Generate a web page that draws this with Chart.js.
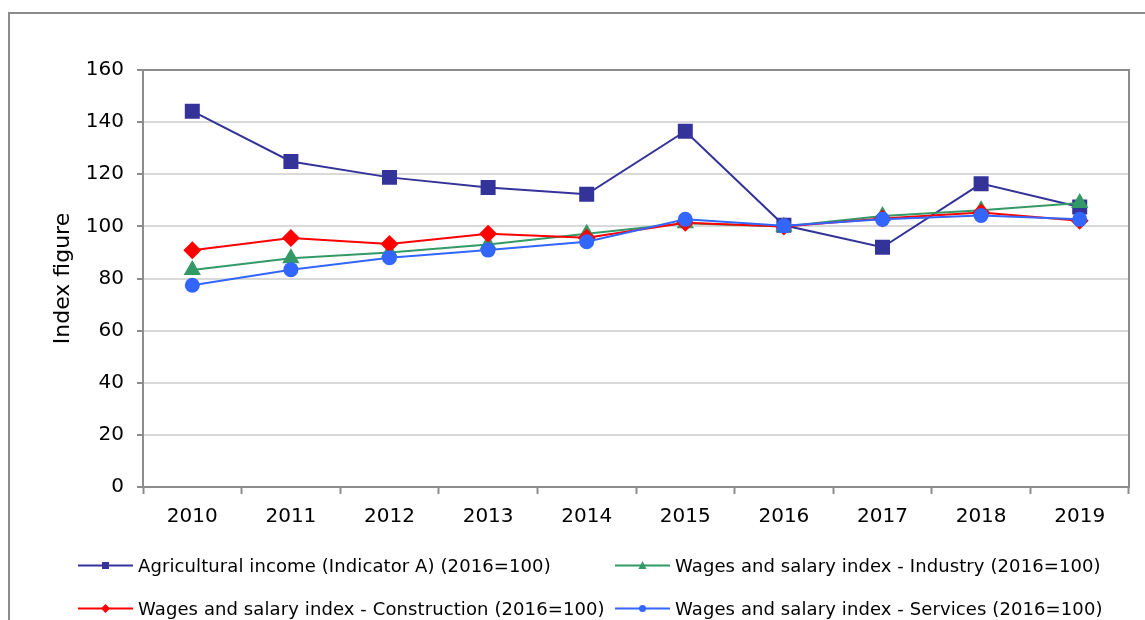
<!DOCTYPE html>
<html>
<head>
<meta charset="utf-8">
<script src="https://cdn.jsdelivr.net/npm/chart.js@4/dist/chart.umd.min.js"></script>
<style>
  html, body { margin: 0; padding: 0; background: #fff; overflow: hidden; }
  #wrap { position: relative; width: 1145px; height: 620px; }
  #frame { position: absolute; left: 8px; top: 12px; width: 1300px; height: 800px; border: 2px solid #8c8c8c; box-sizing: border-box; }
  #chart { position: absolute; left: 0; top: 0; }
  .leg { position: absolute; display: flex; align-items: center; font: 18px "DejaVu Sans", sans-serif; letter-spacing: 0.1px; color: #000; white-space: nowrap; }
  .leg svg { margin-right: 5px; }
</style>
</head>
<body>
<div id="wrap">
  <div id="frame"></div>
  <canvas id="chart" width="1145" height="620"></canvas>
  <div id="legend"></div>
</div>
<script>
const years = ['2010', '2011', '2012', '2013', '2014', '2015', '2016', '2017', '2018', '2019'];
const agricultural = [144.2, 124.9, 118.8, 114.9, 112.3, 136.5, 100.4, 92, 116.4, 107.4];
const industry = [83.3, 87.8, 90, 93, 97.2, 101.2, 100, 104, 106.2, 109];
const construction = [90.8, 95.5, 93.2, 97.2, 95.6, 101.4, 100, 103, 105.3, 102.2];
const services = [77.4, 83.4, 88, 90.9, 94.1, 102.7, 100.2, 102.7, 104.2, 102.7];

const series = [
  { label: 'Agricultural income (Indicator A) (2016=100)', data: agricultural, color: '#333399', style: 'rect', r: 10.6, order: 3 },
  { label: 'Wages and salary index - Industry (2016=100)', data: industry, color: '#339966', style: 'triangle', r: 10, order: 2 },
  { label: 'Wages and salary index - Construction (2016=100)', data: construction, color: '#ff0000', style: 'rectRot', r: 9, order: 1 },
  { label: 'Wages and salary index - Services (2016=100)', data: services, color: '#3366ff', style: 'circle', r: 7.5, order: 0 },
];

// plot frame (top + right edges) drawn around the chart area
const plotFrame = {
  id: 'plotFrame',
  afterDraw(chart) {
    const { ctx, chartArea: a } = chart;
    ctx.save();
    ctx.strokeStyle = '#8c8c8c';
    ctx.lineWidth = 2;
    ctx.beginPath();
    ctx.moveTo(a.left, a.top);
    ctx.lineTo(a.right, a.top);
    ctx.lineTo(a.right, a.bottom);
    ctx.stroke();
    ctx.restore();
  }
};

new Chart(document.getElementById('chart'), {
  type: 'line',
  data: {
    labels: years,
    datasets: series.map(s => ({
      label: s.label,
      data: s.data,
      borderColor: s.color,
      backgroundColor: s.color,
      borderWidth: 2,
      pointStyle: s.style,
      pointRadius: s.r,
      pointBorderWidth: 0,
      order: s.order,
      tension: 0,
    })),
  },
  options: {
    responsive: false,
    animation: false,
    layout: { padding: { left: 45, top: 70, right: 16, bottom: 0 } },
    plugins: { legend: { display: false }, tooltip: { enabled: false } },
    scales: {
      x: {
        offset: true,
        grid: { offset: true, drawOnChartArea: false, tickLength: 7, tickColor: '#8c8c8c', tickWidth: 2 },
        border: { color: '#8c8c8c', width: 2 },
        ticks: { color: '#000', font: { family: 'DejaVu Sans', size: 20 }, padding: 11, maxRotation: 0 },
        afterFit(scale) { scale.height = 133; },
      },
      y: {
        min: 0, max: 160,
        ticks: { stepSize: 20, color: '#000', font: { family: 'DejaVu Sans', size: 20 }, padding: 13 },
        grid: { color: '#d9d9d9', lineWidth: 2, tickLength: 6, tickColor: '#8c8c8c', tickWidth: 2 },
        border: { color: '#8c8c8c', width: 2 },
        title: { display: true, text: 'Index figure', color: '#000', font: { family: 'DejaVu Sans', size: 22 }, padding: { top: 5, bottom: 0 } },
        afterFit(scale) { scale.width = 98; },
      },
    },
  },
  plugins: [plotFrame],
});

// HTML legend, 2 x 2
const legendPos = [
  { x: 78, y: 565 }, { x: 615, y: 565 },
  { x: 78, y: 608 }, { x: 615, y: 608 },
];
const legendSeries = [series[0], series[1], series[2], series[3]];
function marker(s) {
  const c = s.color;
  if (s.style === 'rect') return `<rect x="24" y="6" width="7" height="7" fill="${c}"/>`;
  if (s.style === 'triangle') return `<polygon points="27.5,5 31.5,13 23.5,13" fill="${c}"/>`;
  if (s.style === 'rectRot') return `<polygon points="27.5,5 32,9.5 27.5,14 23,9.5" fill="${c}"/>`;
  return `<circle cx="27.5" cy="9.5" r="3.5" fill="${c}"/>`;
}
document.getElementById('legend').innerHTML = legendSeries.map((s, i) => `
  <div class="leg" style="left:${legendPos[i].x}px; top:${legendPos[i].y - 11}px; height:22px">
    <svg width="55" height="19" viewBox="0 0 55 19"><line x1="0" y1="9.5" x2="55" y2="9.5" stroke="${s.color}" stroke-width="2"/>${marker(s)}</svg>
    <span>${s.label}</span>
  </div>`).join('');
</script>
</body>
</html>
